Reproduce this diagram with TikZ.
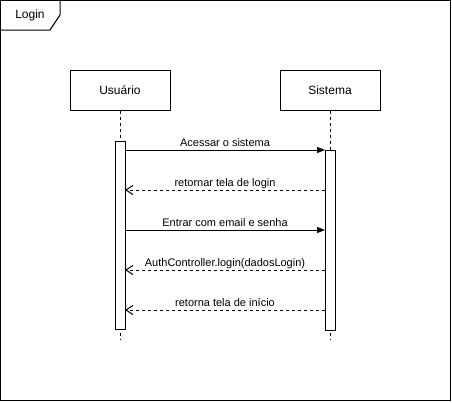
\documentclass[tikz,border=0pt]{standalone}
\usepackage{fontspec}
\setmainfont{Liberation Sans}
\usetikzlibrary{arrows.meta}

\tikzset{
    actor/.style={draw, line width=1pt, rectangle, minimum width=100pt, minimum height=40pt, inner sep=0pt, font=\fontsize{12}{14}\selectfont},
    actbar/.style={draw, fill=white, line width=1pt, rectangle, minimum width=10pt, inner sep=0pt},
    lifeline/.style={line width=1pt, dash pattern=on 3pt off 3pt},
    callmsg/.style={line width=1pt, -{Triangle[length=8pt,width=6pt]}},
    retmsg/.style={line width=1pt, dash pattern=on 3pt off 3pt, -{Straight Barb[length=7pt,width=9pt]}},
    msglabel/.style={inner sep=0pt, anchor=base, font=\fontsize{11}{13}\selectfont}
}

\begin{document}
\begin{tikzpicture}[x=1pt, y=-1pt]
    \useasboundingbox (0,0) rectangle (452,402);

    % frame
    \draw[line width=1pt] (0.5,0.5) rectangle (450.5,400.5);
    \draw[line width=1pt] (0.5,30) -- (50,30) -- (60,15) -- (60,0.5);
    \node[inner sep=0pt, font=\fontsize{12}{14}\selectfont] (frame) at (30,15) {Login};

    % actors
    \node[actor] at (120, 90) (user) {Usuário};
    \node[actor] at (330, 90) (sys) {Sistema};
    \coordinate (userend) at (120, 340);
    \coordinate (sysend) at (330, 340);
    \draw[lifeline] (user) -- (userend);
    \draw[lifeline] (sys) -- (sysend);

    % activations
    \node[actbar, minimum height=188pt] at (120, 235) (userbar) {};
    \node[actbar, minimum height=180pt] at (330, 240) (sysbar) {};

    % messages
    \coordinate (u1) at (125, 150); \coordinate (s1) at (325, 150);
    \coordinate (u2) at (125, 190); \coordinate (s2) at (325, 190);
    \coordinate (u3) at (125, 230); \coordinate (s3) at (325, 230);
    \coordinate (u4) at (125, 270); \coordinate (s4) at (325, 270);
    \coordinate (u5) at (125, 310); \coordinate (s5) at (325, 310);

    \draw[callmsg] (u1) -- (s1);
    \draw[retmsg] (s2) -- (u2);
    \draw[callmsg] (u3) -- (s3);
    \draw[retmsg] (s4) -- (u4);
    \draw[retmsg] (s5) -- (u5);

    \node[msglabel] at (225, 146) (m1) {Acessar o sistema};
    \node[msglabel] at (225, 186) (m2) {retornar tela de login};
    \node[msglabel] at (225, 226) (m3) {Entrar com email e senha};
    \node[msglabel] at (225, 266) (m4) {AuthController.login(dadosLogin)};
    \node[msglabel] at (225, 306) (m5) {retorna tela de início};
\end{tikzpicture}
\end{document}
